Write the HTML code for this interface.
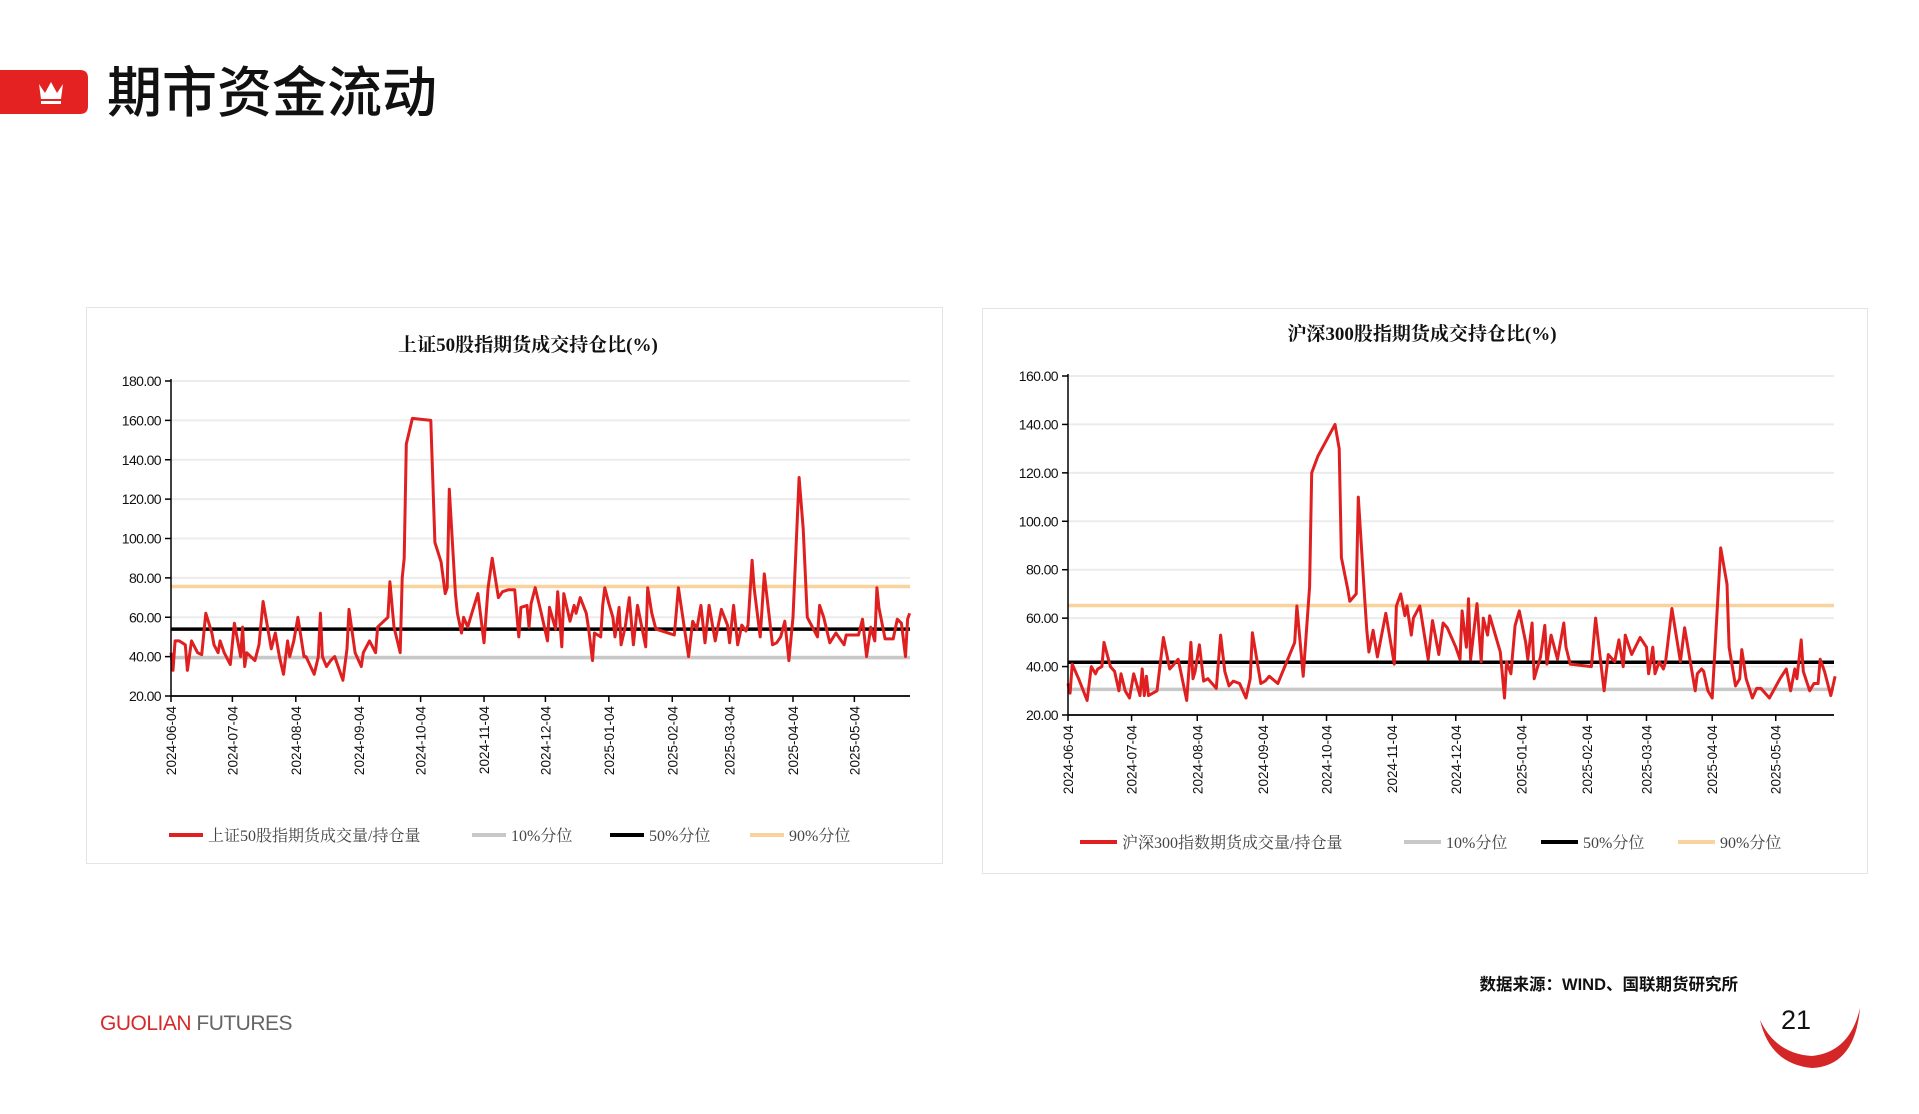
<!DOCTYPE html>
<html><head><meta charset="utf-8">
<style>
html,body{margin:0;padding:0;background:#fff;}
body{width:1919px;height:1114px;overflow:hidden;position:relative;font-family:"Liberation Sans","Noto Sans CJK SC",sans-serif;}
svg{position:absolute;left:0;top:0;}
</style></head>
<body>
<svg id="page" width="1919" height="1114" viewBox="0 0 1919 1114" xmlns="http://www.w3.org/2000/svg">
  <g>
    <path d="M0 70 H80 Q88 70 88 78 V106 Q88 114 80 114 H0 Z" fill="#e52222"/>
    <path d="M39 84 L45 93 L51 82 L57 93 L63 84 L61 99 H41 Z" fill="#fff"/>
    <rect x="41" y="101" width="20" height="3" fill="#fff"/>
    <text x="107" y="112" font-family="'Noto Sans CJK SC',sans-serif" font-size="55" font-weight="500" fill="#111">期市资金流动</text>
  </g>
  <rect x="86.5" y="307.5" width="856" height="556" fill="none" stroke="#e4e4e4"/>
  <rect x="982.5" y="308.5" width="885" height="565" fill="none" stroke="#e4e4e4"/>
  <g id="leftChart"></g>
  <g id="rightChart"></g>
  <g>
    <text x="1738" y="990" text-anchor="end" font-family="'Liberation Sans','Noto Sans CJK SC',sans-serif" font-size="16.5" font-weight="bold" fill="#111">数据来源：WIND、国联期货研究所</text>
    <text x="100" y="1030" font-family="'Liberation Sans',sans-serif" font-size="21" letter-spacing="-0.5"><tspan fill="#d62a2a">GUOLIAN</tspan><tspan fill="#666"> FUTURES</tspan></text>
    <path d="M1760 1020 Q1770 1064 1812 1068 Q1855 1066 1860 1008 Q1850 1052 1812 1056 Q1776 1054 1760 1020 Z" fill="#d42626"/>
    <text x="1796" y="1029" text-anchor="middle" font-family="'Liberation Sans',sans-serif" font-size="27" fill="#111">21</text>
  </g>
</svg>
<script>
// ---- data: left chart (上证50) ----
const tickLabels = ["2024-06-04","2024-07-04","2024-08-04","2024-09-04","2024-10-04","2024-11-04","2024-12-04","2025-01-04","2025-02-04","2025-03-04","2025-04-04","2025-05-04"];
const yTicksLeft = [20,40,60,80,100,120,140,160,180];
const yTicksRight = [20,40,60,80,100,120,140,160];
const leftDays = [0,1,2,4,7,8,10,13,15,17,20,21,23,24,26,29,31,34,35,36,37,41,43,45,49,51,53,55,57,58,60,62,65,66,70,72,73,74,76,78,80,84,86,87,90,93,94,97,100,101,106,107,109,112,113,114,115,118,127,129,132,134,135,136,139,140,142,143,145,147,150,153,155,157,160,162,165,168,170,171,174,175,176,178,181,184,185,188,189,191,192,195,197,198,200,203,204,206,207,210,211,212,214,216,217,219,220,222,224,226,228,232,233,235,237,246,248,253,255,257,259,261,263,266,269,272,273,275,277,279,281,282,284,285,288,290,294,296,298,300,302,304,307,309,311,316,317,319,322,325,329,330,336,338,340,342,344,345,346,349,353,355,357,359,360,361];
const leftValues = [42,33,48,48,46,33,48,42,41,62,52,46,42,48,42,36,57,40,55,35,42,38,46,68,44,52,40,31,48,40,48,60,40,40,31,40,62,40,35,38,40,28,44,64,42,35,42,48,42,55,60,78,55,42,80,90,148,161,160,98,88,72,75,125,72,62,52,60,55,62,72,47,75,90,70,73,74,74,50,65,66,55,67,75,62,48,65,54,73,45,72,58,66,62,70,62,55,38,52,50,66,75,67,60,50,65,46,55,70,46,66,45,75,62,54,51,75,40,58,54,66,47,66,48,64,56,47,66,46,56,53,56,89,75,50,82,46,47,50,58,38,60,131,105,60,50,66,60,47,52,46,51,51,59,40,55,48,75,65,49,49,59,57,40,59,62];
const leftP10 = 39.5, leftP50 = 54, leftP90 = 75.6;
// ---- data: right chart (沪深300) ----
const rightDays = [0,1,2,5,9,11,13,14,16,17,20,22,24,25,27,29,31,34,35,36,37,38,42,45,48,49,52,56,58,59,60,62,64,66,70,72,74,76,78,81,84,86,87,91,93,95,99,107,108,111,114,115,118,126,128,129,132,133,136,137,140,141,142,144,146,148,150,154,155,157,159,160,162,163,166,170,172,175,177,179,183,185,186,188,189,190,193,195,196,198,199,203,204,206,207,209,211,213,216,217,219,220,223,225,226,228,231,234,235,237,247,249,253,255,258,260,262,263,266,270,273,274,276,277,279,281,282,285,289,291,296,297,299,300,302,304,308,311,312,315,317,318,320,323,325,327,331,336,339,341,343,344,346,347,350,352,354,355,357,360,362];
const rightValues = [33,29,41,35,26,40,37,39,40,50,40,38,30,37,30,27,37,28,39,28,36,28,30,52,39,40,43,26,50,35,38,49,34,35,31,53,38,32,34,33,27,35,54,33,34,36,33,50,65,36,73,120,127,140,130,85,72,67,70,110,68,55,46,55,44,53,62,41,65,70,61,65,53,60,65,43,59,45,58,56,48,43,63,48,68,43,66,42,60,53,61,49,46,27,42,37,57,63,50,43,58,35,44,57,41,53,43,58,48,41,40,60,30,45,42,51,40,53,45,52,48,37,48,37,42,39,42,64,42,56,30,37,39,38,30,27,89,74,48,32,35,47,35,27,31,31,27,35,39,30,39,35,51,38,30,33,33,43,38,28,36];
const rightP10 = 30.6, rightP50 = 41.8, rightP90 = 65.2;

const NS = "http://www.w3.org/2000/svg";
function mk(parent, tag, attrs){ const e=document.createElementNS(NS,tag); for(const k in attrs) e.setAttribute(k,attrs[k]); parent.appendChild(e); return e; }
function dayOf(s){ return Math.round((Date.UTC(+s.slice(0,4),+s.slice(5,7)-1,+s.slice(8,10)) - Date.UTC(2024,5,4))/86400000); }

function drawChart(g, cfg){
  const xS = d => cfg.x0 + d*cfg.ppd;
  const yS = v => cfg.yBot - (v - cfg.yMin)/(cfg.yMax - cfg.yMin)*(cfg.yBot - cfg.yTop);
  const t = mk(g,'text',{x:cfg.titleX,y:cfg.titleY,'text-anchor':'middle','font-family':"'Liberation Serif','Noto Serif CJK SC',serif",'font-size':19,'font-weight':'bold',fill:'#111'});
  
  
  t.textContent = cfg.title;
  cfg.yTicks.forEach(v=>{
    const y=yS(v);
    if(v!==cfg.yMin){
      const gl=mk(g,'line',{x1:cfg.x0,x2:cfg.xEnd,y1:y,y2:y,stroke:'#ececec','stroke-width':2});
      
      
    }
    const tk=mk(g,'line',{x1:cfg.x0-6,x2:cfg.x0,y1:y,y2:y,stroke:'#000','stroke-width':1.5});
    
    
    const lb=mk(g,'text',{x:cfg.x0-10,y:y+5,'text-anchor':'end','font-size':14,fill:'#111','letter-spacing':'-0.6'});
    
    
    lb.textContent=v.toFixed(2);
  });
  [[cfg.p10,'#c8c8c8','p10-line'],[cfg.p90,'#f9d39e','p90-line'],[cfg.p50,'#000','p50-line']].forEach(r=>{
    const l=mk(g,'line',{x1:cfg.x0,x2:cfg.xEnd,y1:yS(r[0]),y2:yS(r[0]),stroke:r[1],'stroke-width':3.5});
    
    
  });
  const pts = cfg.days.map((d,i)=>xS(d).toFixed(1)+','+yS(cfg.values[i]).toFixed(1)).join(' ');
  const pl=mk(g,'polyline',{points:pts,fill:'none',stroke:'#e02020','stroke-width':3,'stroke-linejoin':'round'});
  
  
  const ya=mk(g,'line',{x1:cfg.x0,x2:cfg.x0,y1:cfg.yTop-2,y2:cfg.yBot,stroke:'#000','stroke-width':1.5});
  
  
  const xa=mk(g,'line',{x1:cfg.x0,x2:cfg.xEnd,y1:cfg.yBot,y2:cfg.yBot,stroke:'#000','stroke-width':1.8});
  
  
  tickLabels.forEach(s=>{
    const x=xS(dayOf(s));
    const tk=mk(g,'line',{x1:x,x2:x,y1:cfg.yBot,y2:cfg.yBot+6,stroke:'#000','stroke-width':1.5});
    
    
    const lb=mk(g,'text',{x:0,y:0,'text-anchor':'end','font-size':13.5,fill:'#111',transform:`translate(${x+5},${cfg.yBot+10}) rotate(-90)`});
    
    
    lb.textContent=s;
  });
  const items=[[cfg.legendName,'#e02020'],['10%分位','#c8c8c8'],['50%分位','#000'],['90%分位','#f9d39e']];
  items.forEach((it,i)=>{
    const lx=cfg.legendX[i];
    const ll=mk(g,'line',{x1:lx,x2:lx+cfg.legendLen,y1:cfg.legendY,y2:cfg.legendY,stroke:it[1],'stroke-width':4});
    
    
    const lt=mk(g,'text',{x:lx+cfg.legendLen+5,y:cfg.legendY+6,'font-family':"'Liberation Serif','Noto Serif CJK SC',serif",'font-size':16,fill:'#444'});
    
    
    lt.textContent=it[0];
  });
}

drawChart(document.getElementById('leftChart'),{
  title:'上证50股指期货成交持仓比(%)', titleX:528, titleY:351,
  x0:171, ppd:2.046, xEnd:910, yTop:381, yBot:696, yMin:20, yMax:180, yTicks:yTicksLeft,
  days:leftDays, values:leftValues, p10:leftP10, p50:leftP50, p90:leftP90,
  legendName:'上证50股指期货成交量/持仓量', legendX:[169,472,610,750], legendLen:34, legendY:835
});
drawChart(document.getElementById('rightChart'),{
  title:'沪深300股指期货成交持仓比(%)', titleX:1422, titleY:340,
  x0:1068, ppd:2.119, xEnd:1834, yTop:376, yBot:715, yMin:20, yMax:160, yTicks:yTicksRight,
  days:rightDays, values:rightValues, p10:rightP10, p50:rightP50, p90:rightP90,
  legendName:'沪深300指数期货成交量/持仓量', legendX:[1080,1404,1541,1678], legendLen:37, legendY:842
});
</script>
</body></html>
